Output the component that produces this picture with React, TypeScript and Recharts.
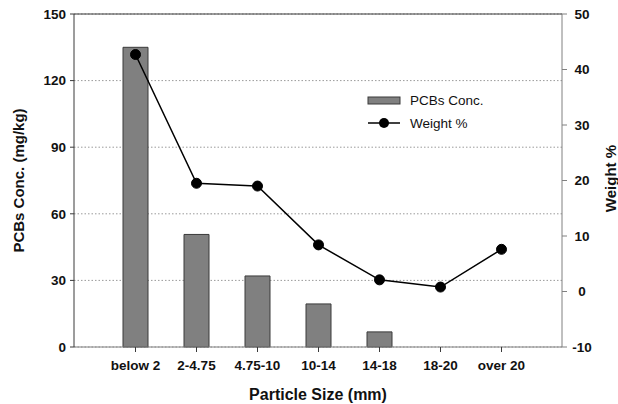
import {
  ComposedChart,
  Bar,
  Line,
  XAxis,
  YAxis,
  CartesianGrid,
  ReferenceLine,
  Legend,
  Label,
} from "recharts";

const sizes = ["below 2", "2-4.75", "4.75-10", "10-14", "14-18", "18-20", "over 20"];
const pcbsConc = [135, 50.7, 32, 19.4, 6.8, 0, 0];
const weightPct = [42.7, 19.5, 19.0, 8.4, 2.1, 0.8, 7.6];

const concTicks = [0, 30, 60, 90, 120, 150];
const weightTicks = [-10, 0, 10, 20, 30, 40, 50];

const data = sizes.map((size, i) => ({
  size,
  conc: pcbsConc[i],
  weight: weightPct[i],
}));

const FONT = '"Liberation Sans", Arial, sans-serif';
const DARK = "#3a3a3a";
const GREY = "#808080";

function XTick(props: any) {
  const { x, y, payload } = props;
  return (
    <text x={x} y={y + 16} textAnchor="middle" fontFamily={FONT} fontWeight="bold" fontSize={13.5} fill="#111">
      {payload.value}
    </text>
  );
}

function LeftTick(props: any) {
  const { x, y, payload } = props;
  return (
    <text x={x - 2} y={y} dy="0.36em" textAnchor="end" fontFamily={FONT} fontWeight="bold" fontSize={13.5} fill="#111">
      {payload.value}
    </text>
  );
}

function RightTick(props: any) {
  const { x, y, payload } = props;
  return (
    <text x={x + 13} y={y} dy="0.36em" textAnchor="middle" fontFamily={FONT} fontWeight="bold" fontSize={13.5} fill="#111">
      {payload.value}
    </text>
  );
}

function LegendBox() {
  return (
    <svg width={160} height={50} style={{ fontFamily: FONT, fontSize: 13.5 }}>
      <rect x={8} y={5} width={32} height={7} fill={GREY} stroke={DARK} strokeWidth={1} />
      <text x={50} y={13} fill="#111">PCBs Conc.</text>
      <line x1={8} y1={31} x2={40} y2={31} stroke="#000" strokeWidth={1.5} />
      <circle cx={24} cy={31} r={5} fill="#000" />
      <text x={50} y={36} fill="#111">Weight %</text>
    </svg>
  );
}

export default function App() {
  return (
    <div style={{ position: "fixed", left: 0, top: 0, width: 618, height: 404, background: "#fff" }}>
      <ComposedChart
        width={618}
        height={404}
        data={data}
        margin={{ top: 14, right: 0, bottom: 0, left: 0 }}
      >
        <CartesianGrid
          yAxisId="conc"
          vertical={false}
          stroke="#9a9a9a"
          strokeDasharray="1.5 2"
        />
        <XAxis
          dataKey="size"
          padding={{ left: 31, right: 30 }}
          height={57}
          stroke={GREY}
          tickSize={5}
          tickLine={{ stroke: DARK }}
          tick={<XTick />}
          interval={0}
        >
          <Label
            content={(p: any) => (
              <text
                x={p.viewBox.x + p.viewBox.width / 2}
                y={p.viewBox.y + 53}
                textAnchor="middle"
                fontFamily={FONT}
                fontWeight="bold"
                fontSize={16}
                fill="#111"
              >
                Particle Size (mm)
              </text>
            )}
          />
        </XAxis>
        <YAxis
          yAxisId="conc"
          width={74}
          domain={[0, 150]}
          ticks={concTicks}
          stroke={DARK}
          tickSize={4}
          tick={<LeftTick />}
        >
          <Label
            content={(p: any) => {
              const cx = 19;
              const cy = p.viewBox.y + p.viewBox.height / 2;
              return (
                <text
                  x={cx}
                  y={cy}
                  transform={`rotate(-90 ${cx} ${cy})`}
                  textAnchor="middle"
                  dy="0.36em"
                  fontFamily={FONT}
                  fontWeight="bold"
                  fontSize={15}
                  fill="#111"
                >
                  PCBs Conc. (mg/kg)
                </text>
              );
            }}
          />
        </YAxis>
        <YAxis
          yAxisId="weight"
          orientation="right"
          width={56}
          domain={[-10, 50]}
          ticks={weightTicks}
          stroke={GREY}
          tickSize={5}
          tick={<RightTick />}
        >
          <Label
            content={(p: any) => {
              const cx = p.viewBox.x + 49;
              const cy = p.viewBox.y + p.viewBox.height / 2 - 2;
              return (
                <text
                  x={cx}
                  y={cy}
                  transform={`rotate(-90 ${cx} ${cy})`}
                  textAnchor="middle"
                  dy="0.36em"
                  fontFamily={FONT}
                  fontWeight="bold"
                  fontSize={15}
                  fill="#111"
                >
                  Weight %
                </text>
              );
            }}
          />
        </YAxis>
        <ReferenceLine yAxisId="conc" y={150} stroke={DARK} strokeWidth={1} />
        <Bar
          yAxisId="conc"
          dataKey="conc"
          name="PCBs Conc."
          barSize={25}
          fill={GREY}
          stroke={DARK}
          strokeWidth={1}
          isAnimationActive={false}
        />
        <Line
          yAxisId="weight"
          dataKey="weight"
          name="Weight %"
          type="linear"
          stroke="#000"
          strokeWidth={1.5}
          dot={{ r: 5, fill: "#000", stroke: "#000", strokeWidth: 1 }}
          isAnimationActive={false}
        />
        <Legend
          layout="horizontal"
          verticalAlign="middle"
          align="center"
          content={() => <LegendBox />}
          wrapperStyle={{ position: "absolute", left: 360, top: 92, width: 160, height: 50 }}
        />
      </ComposedChart>
    </div>
  );
}
